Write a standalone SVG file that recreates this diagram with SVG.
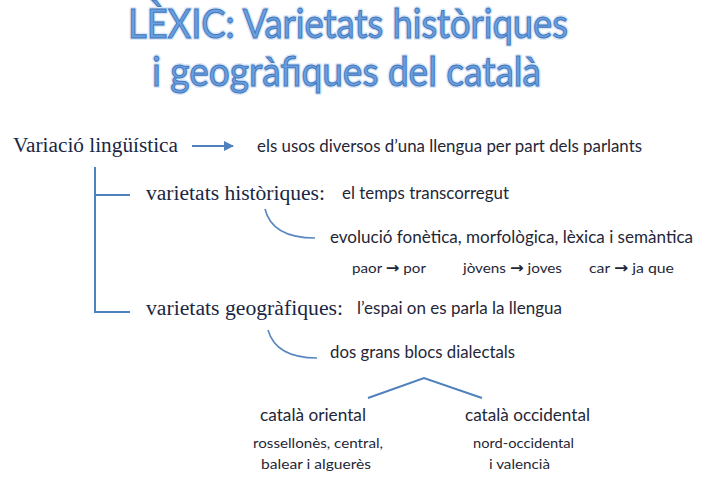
<svg xmlns="http://www.w3.org/2000/svg" width="715" height="490" viewBox="0 0 715 490">
<defs>
<style>
.title{font-family:Lato,"Open Sans",sans-serif;font-size:40px;font-weight:normal;fill:#6a9fe0;stroke:#3f76bb;stroke-width:1px;}
.halo{font-family:Lato,"Open Sans",sans-serif;font-size:40px;font-weight:normal;fill:#d5e4f6;stroke:#dce8f7;stroke-width:4px;stroke-linejoin:round;}
.serif{font-family:"Liberation Serif","DejaVu Serif",serif;font-size:20px;fill:#1a2744;}
.sans{font-family:Lato,"Open Sans",sans-serif;font-size:16.5px;fill:#1f2737;}
.small{font-family:Lato,"Open Sans",sans-serif;font-size:14px;fill:#1f2737;}
.arr{font-family:"DejaVu Sans",sans-serif;font-weight:bold;font-size:15px;}
.ln{fill:none;stroke:#4f81bd;stroke-width:2;}
.cv{fill:none;stroke:#5b87c0;stroke-width:1.6;}
</style>
<marker id="ah" markerWidth="10" markerHeight="10" refX="9" refY="5" orient="auto" markerUnits="userSpaceOnUse">
<path d="M0,0 L10,5 L0,10 Z" fill="#4f81bd"/>
</marker>
</defs>
<rect width="715" height="490" fill="#fff"/>
<g id="title">
<text class="halo" x="128" y="38" textLength="440" lengthAdjust="spacingAndGlyphs">LÈXIC: Varietats històriques</text>
<text class="title" x="128" y="38" textLength="440" lengthAdjust="spacingAndGlyphs">LÈXIC: Varietats històriques</text>
<text class="halo" x="152" y="86" textLength="389" lengthAdjust="spacingAndGlyphs">i geogràfiques del català</text>
<text class="title" x="152" y="86" textLength="389" lengthAdjust="spacingAndGlyphs">i geogràfiques del català</text>
</g>
<g id="connectors">
<line class="ln" x1="192" y1="146" x2="233" y2="146" marker-end="url(#ah)"/>
<path class="ln" d="M95,167 V312 H130 M95,195 H130"/>
<path class="cv" d="M265,209 Q272,238 315,238"/>
<path class="cv" d="M268,330 Q276,358 317,358"/>
<path class="ln" d="M368,398 L424,378 L482,398"/>
</g>
<g id="node-variacio">
<text class="serif" x="13" y="152" textLength="165" lengthAdjust="spacingAndGlyphs">Variació lingüística</text>
</g>
<g id="node-definicio">
<text class="sans" x="257" y="152" textLength="385" lengthAdjust="spacingAndGlyphs">els usos diversos d’una llengua per part dels parlants</text>
</g>
<g id="node-historiques">
<text class="serif" x="146" y="200" textLength="179" lengthAdjust="spacingAndGlyphs">varietats històriques:</text>
<text class="sans" x="342" y="199" textLength="167" lengthAdjust="spacingAndGlyphs">el temps transcorregut</text>
</g>
<g id="node-evolucio">
<text class="sans" x="330" y="243" textLength="363" lengthAdjust="spacingAndGlyphs">evolució fonètica, morfològica, lèxica i semàntica</text>
</g>
<g id="node-exemples">
<text class="small" x="352" y="273" textLength="74" lengthAdjust="spacingAndGlyphs">paor <tspan class="arr">→</tspan> por</text>
<text class="small" x="463" y="273" textLength="99" lengthAdjust="spacingAndGlyphs">jòvens <tspan class="arr">→</tspan> joves</text>
<text class="small" x="589" y="273" textLength="85" lengthAdjust="spacingAndGlyphs">car <tspan class="arr">→</tspan> ja que</text>
</g>
<g id="node-geografiques">
<text class="serif" x="146" y="315" textLength="197" lengthAdjust="spacingAndGlyphs">varietats geogràfiques:</text>
<text class="sans" x="357" y="314" textLength="205" lengthAdjust="spacingAndGlyphs">l’espai on es parla la llengua</text>
</g>
<g id="node-blocs">
<text class="sans" x="330" y="358" textLength="185" lengthAdjust="spacingAndGlyphs">dos grans blocs dialectals</text>
</g>
<g id="node-oriental">
<text class="sans" x="260" y="421" textLength="106" lengthAdjust="spacingAndGlyphs">català oriental</text>
<text class="small" x="253" y="448" textLength="130" lengthAdjust="spacingAndGlyphs">rossellonès, central,</text>
<text class="small" x="261" y="469" textLength="110" lengthAdjust="spacingAndGlyphs">balear i alguerès</text>
</g>
<g id="node-occidental">
<text class="sans" x="465" y="421" textLength="125" lengthAdjust="spacingAndGlyphs">català occidental</text>
<text class="small" x="473" y="448" textLength="101" lengthAdjust="spacingAndGlyphs">nord-occidental</text>
<text class="small" x="489" y="469" textLength="61" lengthAdjust="spacingAndGlyphs">i valencià</text>
</g>
</svg>
